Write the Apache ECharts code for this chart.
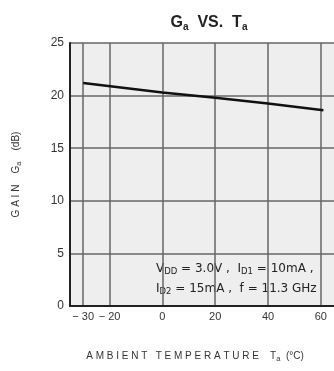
<!DOCTYPE html>
<html><head><meta charset="utf-8">
<script src="https://cdn.jsdelivr.net/npm/echarts@6/dist/echarts.min.js"></script>
<style>html,body{margin:0;padding:0;background:#fff}#c{width:334px;height:371px}</style>
</head><body><div id="c"></div>
<script>
const temps = [-30, 0, 20, 40, 61];
const gains = [21.2, 20.3, 19.8, 19.25, 18.6];
const xTicks = [-30, -20, 0, 20, 40, 60];
const yTicks = [0, 5, 10, 15, 20, 25];

const chart = echarts.init(document.getElementById('c'));
const F = 'Liberation Sans, Arial, sans-serif';
const W = 'DejaVu Sans, sans-serif';
chart.setOption({
  backgroundColor: '#fff',
  animation: false,
  title: {
    text: '{b|G}{s|a}{b|  VS.  T}{s|a}',
    left: 204, top: 8, textAlign: 'center',
    textStyle: { rich: {
      b: { fontFamily: F, fontWeight: 'bold', fontSize: 16, color: '#222' },
      s: { fontFamily: F, fontWeight: 'bold', fontSize: 10, color: '#222', padding: [9, 0, 0, 0] }
    } }
  },
  grid: { left: 70, right: 0, top: 43, bottom: 65, show: true, backgroundColor: '#eeeeee', borderWidth: 0 },
  xAxis: {
    type: 'value', min: -35, max: 65,
    axisLine: { show: true, onZero: false, lineStyle: { color: '#222', width: 2 } },
    axisTick: { show: false, customValues: xTicks },
    axisLabel: { customValues: xTicks, color: '#333', fontFamily: F, fontSize: 11, margin: 5,
      formatter: v => v < 0 ? '\u2212 ' + Math.abs(v) : String(v) },
    splitLine: { show: true, lineStyle: { color: '#666', width: 1.5 } },
    name: '{t|A M B I E N T   T E M P E R A T U R E    T}{s|a}{t|  (°C)}',
    nameLocation: 'middle', nameGap: 44,
    nameTextStyle: { padding: [0, 14, 0, 0], rich: {
      t: { fontFamily: F, fontSize: 10, color: '#333' },
      s: { fontFamily: F, fontSize: 7.5, color: '#333', padding: [5, 0, 0, 0] }
    } }
  },
  yAxis: {
    type: 'value', min: 0, max: 25, interval: 5,
    axisLine: { show: true, onZero: false, lineStyle: { color: '#222', width: 2 } },
    axisTick: { show: false, customValues: yTicks },
    axisLabel: { customValues: yTicks, color: '#333', fontFamily: F, fontSize: 12, margin: 6 },
    splitLine: { show: true, lineStyle: { color: '#666', width: 1.5 } },
    name: '{t|G A I N    G}{s|a}{t|    (dB)}',
    nameLocation: 'middle', nameGap: 47, nameRotate: 90,
    nameTextStyle: { rich: {
      t: { fontFamily: F, fontSize: 10, color: '#333' },
      s: { fontFamily: F, fontSize: 7.5, color: '#333', padding: [5, 0, 0, 0] }
    } }
  },
  graphic: [{
    type: 'text', left: 156, top: 262,
    style: {
      text: '{t|V}{s|DD}{t| = 3.0V ,  I}{s|D1}{t| = 10mA ,}\n{t|I}{s|D2}{t| = 15mA ,  f = 11.3 GHz}',
      rich: {
        t: { fontFamily: W, fontSize: 12, fill: '#222', lineHeight: 20 },
        s: { fontFamily: W, fontSize: 8.5, fill: '#222', padding: [5, 0, 0, 0], lineHeight: 20 }
      }
    }
  }],
  series: [{
    type: 'line', data: temps.map((t, i) => [t, gains[i]]),
    symbol: 'none', lineStyle: { color: '#111', width: 2.5 }
  }]
});
</script></body></html>
